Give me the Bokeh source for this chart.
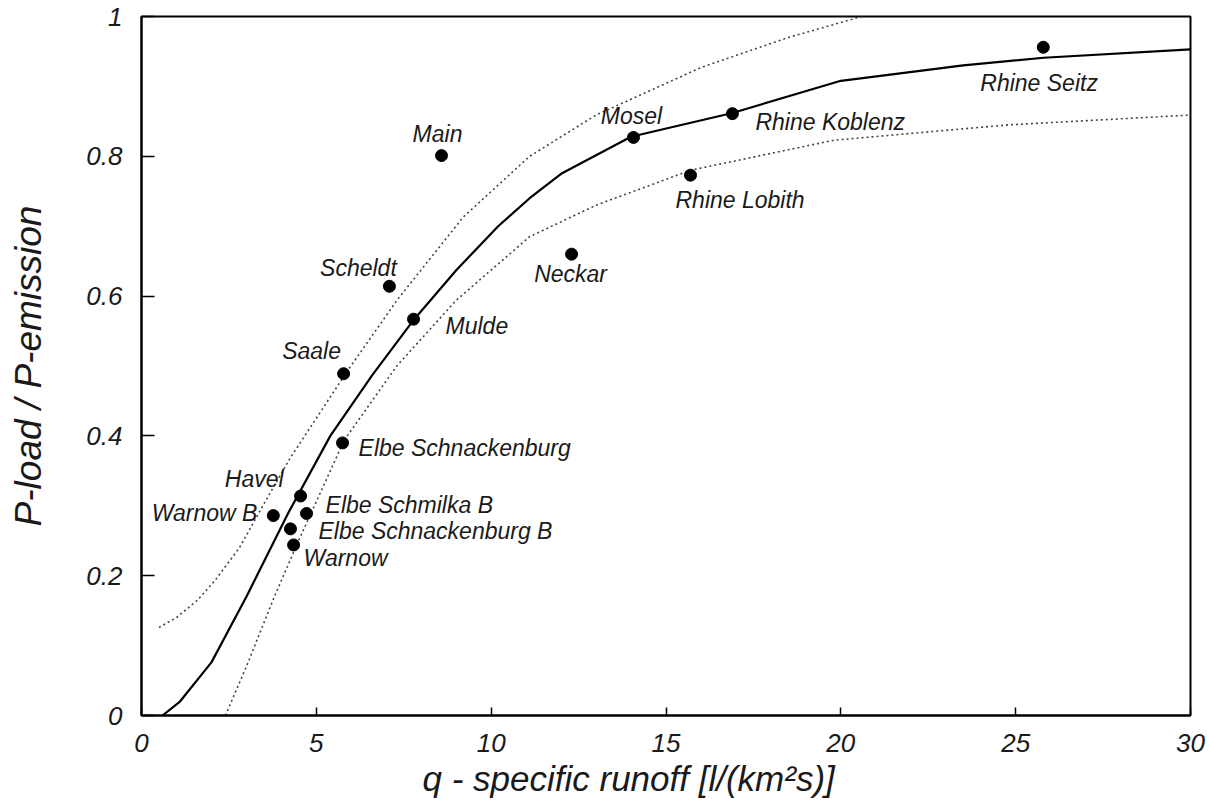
from bokeh.plotting import figure
from bokeh.models import Range1d, ColumnDataSource, FixedTicker, Title
from bokeh.core.properties import value
from bokeh.embed import file_html
from bokeh.resources import INLINE

# ---- data ----
rivers = ["Main", "Scheldt", "Mulde", "Saale", "Elbe Schnackenburg", "Havel",
          "Elbe Schmilka B", "Warnow B", "Elbe Schnackenburg B", "Warnow",
          "Neckar", "Mosel", "Rhine Koblenz", "Rhine Lobith", "Rhine Seitz"]
q_obs = [8.58, 7.09, 7.78, 5.78, 5.75, 4.55, 4.72, 3.77, 4.26, 4.35,
         12.30, 14.07, 16.90, 15.70, 25.79]
ratio_obs = [0.801, 0.614, 0.567, 0.489, 0.390, 0.314, 0.289, 0.286, 0.267, 0.244,
             0.660, 0.827, 0.861, 0.773, 0.956]

q_fit = [0.6, 1.1, 2.0, 3.0, 4.2, 5.4, 6.6, 7.8, 9.0, 10.2, 11.1, 12.0, 14.0,
         16.9, 20.0, 23.5, 25.8, 30.0]
ratio_fit = [0.0, 0.02, 0.076, 0.17, 0.29, 0.40, 0.487, 0.567, 0.637, 0.70, 0.74,
             0.775, 0.828, 0.862, 0.908, 0.93, 0.941, 0.953]

q_upper = [0.5, 1.0, 1.6, 2.1, 2.8, 3.55, 4.26, 5.89, 7.32, 9.2, 11.1, 13.0, 16.0,
           18.5, 20.6]
ratio_upper = [0.126, 0.14, 0.165, 0.193, 0.24, 0.307, 0.369, 0.493, 0.595, 0.713,
               0.80, 0.859, 0.927, 0.97, 1.0]

q_lower = [2.4, 3.0, 3.8, 4.5, 5.8, 7.3, 9.0, 11.1, 13.0, 15.7, 19.8, 24.8, 30.0]
ratio_lower = [0.0, 0.07, 0.17, 0.251, 0.394, 0.50, 0.594, 0.685, 0.73, 0.78,
               0.823, 0.845, 0.859]

x_ticks = [0, 5, 10, 15, 20, 25, 30]
y_ticks = [0, 0.2, 0.4, 0.6, 0.8, 1]
y_tick_labels = ["0", "0.2", "0.4", "0.6", "0.8", "1"]
x_title = "q - specific runoff [l/(km\u00b2s)]"
y_title = "P-load / P-emission"

# ---- label placement (screen px) ----
lab_dx = [-4, -31, 32, -32, 16, -17, 19, -16, 28, 10, -1, -2, 23, -15, -63]
lab_dy = [-22, -18, 7, -23, 5, -17, -8, -3, 2, 13, 20, -21, 8, 25, 36]
lab_align = ["center", "center", "left", "center", "left", "right", "left", "right",
             "left", "left", "center", "center", "left", "left", "left"]

FONT = "Liberation Sans"
INK = "#1a1a1a"

p = figure(width=1208, height=808, x_range=Range1d(0, 30), y_range=Range1d(0, 1),
           output_backend="svg", toolbar_location=None,
           min_border_left=141, min_border_right=18, min_border_top=16,
           min_border_bottom=93)
p.grid.visible = False
p.background_fill_color = "white"
p.border_fill_color = "white"
p.outline_line_color = "black"
p.outline_line_width = 2

for ax in (p.xaxis[0], p.yaxis[0]):
    ax.axis_line_width = 2
    ax.axis_line_color = "black"
    ax.major_tick_out = 0
    ax.minor_tick_line_color = None
    ax.major_tick_line_color = "black"
    ax.major_tick_line_width = 1.5
    ax.major_label_text_font = FONT
    ax.major_label_text_font_style = "italic"
    ax.major_label_text_font_size = "26px"
    ax.major_label_text_color = INK

p.xaxis.ticker = FixedTicker(ticks=x_ticks)
p.yaxis.ticker = FixedTicker(ticks=y_ticks)
p.xaxis.major_label_overrides = {t: str(t) for t in x_ticks}
p.yaxis.major_label_overrides = dict(zip(y_ticks, y_tick_labels))
p.xaxis.major_tick_in = 8
p.yaxis.major_tick_in = 13
p.xaxis.major_label_standoff = 18
p.yaxis.major_label_standoff = 19

p.yaxis.axis_label = y_title
p.yaxis.axis_label_text_font = FONT
p.yaxis.axis_label_text_font_style = "italic"
p.yaxis.axis_label_text_font_size = "37px"
p.yaxis.axis_label_text_color = INK
p.yaxis.axis_label_standoff = 34

xt = Title(text=x_title, align="left", offset=281, standoff=4,
           text_font=FONT, text_font_style="italic", text_font_size="35px",
           text_color=INK)
p.add_layout(xt, "below")

# curves
p.line(q_upper, ratio_upper, line_color="#444444", line_width=1.6, line_dash="2 3")
p.line(q_lower, ratio_lower, line_color="#444444", line_width=1.6, line_dash="2 3")
p.line(q_fit, ratio_fit, line_color="black", line_width=2.2)

# points
p.scatter(q_obs, ratio_obs, size=12, color="black")

src = ColumnDataSource(dict(x=q_obs, y=ratio_obs, name=rivers, dx=lab_dx, dy=lab_dy,
                            align=lab_align))
p.text(x="x", y="y", text="name", x_offset="dx", y_offset="dy", text_align="align",
       text_baseline="middle", text_font=value(FONT), text_font_style="italic",
       text_font_size="23px", text_color=INK, source=src)

open("out.html", "w").write(file_html(p, INLINE))
